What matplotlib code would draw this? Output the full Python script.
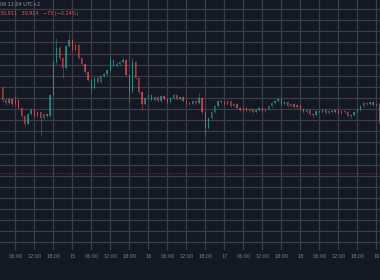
import matplotlib.pyplot as plt
import numpy as np

# hourly candles, hours counted from day 13 00:00
hours = np.arange(26, 146)
first_open = 31045
closes = [30991, 30978, 30996, 30973, 30991, 30955, 30919, 30883, 30928, 30946,
          30919, 30937, 30910, 30928, 30919, 31014, 31162, 31225, 31180, 31135,
          31234, 31261, 31216, 31238, 31180, 31153, 31117, 31081, 31045, 31090,
          31072, 31099, 31108, 31126, 31171, 31144, 31153, 31162, 31171, 31104,
          31027, 31162, 31090, 31027, 30973, 31000, 31014, 30991, 31005, 30987,
          31009, 30996, 30982, 31000, 31014, 30996, 31005, 30987, 30978, 30973,
          30987, 30978, 31000, 30937, 30865, 30910, 30937, 30964, 30987, 30982,
          30973, 30987, 30964, 30973, 30955, 30946, 30955, 30942, 30951, 30937,
          30946, 30955, 30942, 30951, 30964, 30978, 30987, 30996, 30973, 30982,
          30964, 30973, 30960, 30969, 30951, 30937, 30946, 30928, 30924, 30942,
          30937, 30946, 30933, 30942, 30937, 30946, 30933, 30942, 30937, 30919,
          30924, 30937, 30946, 30964, 30978, 30973, 30982, 30969, 30973, 30897]
highs = [31052, 30998, 31003, 31001, 31009, 30995, 30960, 30924, 30934, 30953,
         30950, 30942, 30941, 30933, 30932, 31020, 31170, 31270, 31232, 31186,
         31240, 31292, 31266, 31245, 31242, 31186, 31158, 31122, 31086, 31096,
         31097, 31105, 31114, 31132, 31189, 31176, 31160, 31168, 31184, 31175,
         31108, 31180, 31168, 31095, 31031, 31006, 31020, 31018, 31010, 31009,
         31015, 31013, 31000, 31005, 31022, 31018, 31010, 31009, 30992, 30983,
         30992, 30991, 31022, 31004, 30942, 30916, 30943, 30970, 30993, 30992,
         30986, 30992, 30991, 30978, 30977, 30959, 30960, 30958, 30956, 30954,
         30951, 30960, 30958, 30956, 30969, 30983, 30992, 31005, 31000, 30987,
         30986, 30978, 30977, 30974, 30973, 30955, 30951, 30950, 30932, 30947,
         30946, 30951, 30950, 30947, 30946, 30951, 30950, 30947, 30946, 30941,
         30929, 30942, 30951, 30969, 30983, 30982, 30987, 30986, 30978, 30978]
lows = [30984, 30970, 30972, 30966, 30968, 30950, 30912, 30870, 30879, 30922,
        30913, 30914, 30834, 30905, 30912, 30915, 31010, 31155, 31172, 31090,
        31130, 31228, 31210, 31212, 31175, 31147, 31110, 31075, 31027, 31040,
        31066, 31068, 31094, 31103, 31120, 31138, 31140, 31148, 31157, 31098,
        30982, 31022, 31084, 31020, 30946, 30968, 30995, 30986, 30986, 30982,
        30983, 30991, 30977, 30978, 30996, 30991, 30992, 30982, 30973, 30968,
        30969, 30974, 30975, 30930, 30834, 30860, 30905, 30932, 30960, 30977,
        30968, 30969, 30959, 30960, 30950, 30941, 30942, 30937, 30938, 30932,
        30933, 30942, 30937, 30938, 30947, 30960, 30974, 30982, 30968, 30969,
        30959, 30960, 30955, 30956, 30946, 30932, 30933, 30923, 30910, 30920,
        30932, 30933, 30929, 30929, 30932, 30933, 30929, 30929, 30932, 30914,
        30910, 30920, 30933, 30942, 30960, 30968, 30969, 30964, 30965, 30883]
opens = [first_open] + closes[:-1]

ref_line = 30663
tick_hours = np.arange(30, 145, 6)
tick_labels = ['06:00', '12:00', '18:00', '15', '06:00', '12:00', '18:00', '16',
               '06:00', '12:00', '18:00', '17', '06:00', '12:00', '18:00', '18',
               '06:00', '12:00', '18:00', '19']

bg = '#141823'
up_color = '#26a69a'
down_color = '#ef5350'

fig = plt.figure(figsize=(3.8, 2.8), dpi=100, facecolor=bg)
ax = fig.add_axes([0, 30 / 280, 1, 250 / 280], facecolor=bg)

# grid
for p in np.arange(30350, 31450, 50):
    ax.axhline(p, color='#3a3e4a', lw=0.9, zorder=0)
for h in tick_hours:
    ax.axvline(h, color='#3a3e4a', lw=0.9, zorder=0)

ax.axhline(ref_line, color='#6b2a35', lw=0.8, ls=(0, (1, 1)), zorder=1)

# candles
o = np.array(opens)
c = np.array(closes)
colors = np.where(c >= o, up_color, down_color)
ax.vlines(hours, lows, highs, colors=colors, lw=0.5, alpha=0.6, zorder=2)
ax.bar(hours, np.abs(c - o) + 1, bottom=np.minimum(o, c), width=0.4,
       color=colors, alpha=0.65, lw=0, zorder=3)

ax.set_xlim(25.17, 145.17)
ax.set_ylim(30316, 31441)
ax.set_xticks(tick_hours)
ax.set_xticklabels(tick_labels)
ax.tick_params(axis='x', length=0, pad=3, labelsize=3.5, labelcolor='#7c808a')
ax.set_yticks([])
for s in ax.spines.values():
    s.set_visible(False)

fig.text(0.0, 1 - 5 / 280, '09 12:04 UTC+2', color='#9598a1', fontsize=3.5,
         ha='left', va='center')
fig.text(0.0, 1 - 13 / 280, '30,911   30,914   \u221275 (\u22120.24%)', color=down_color,
         fontsize=3.5, ha='left', va='center')

fig.savefig('out.png', dpi=100, facecolor=bg)
